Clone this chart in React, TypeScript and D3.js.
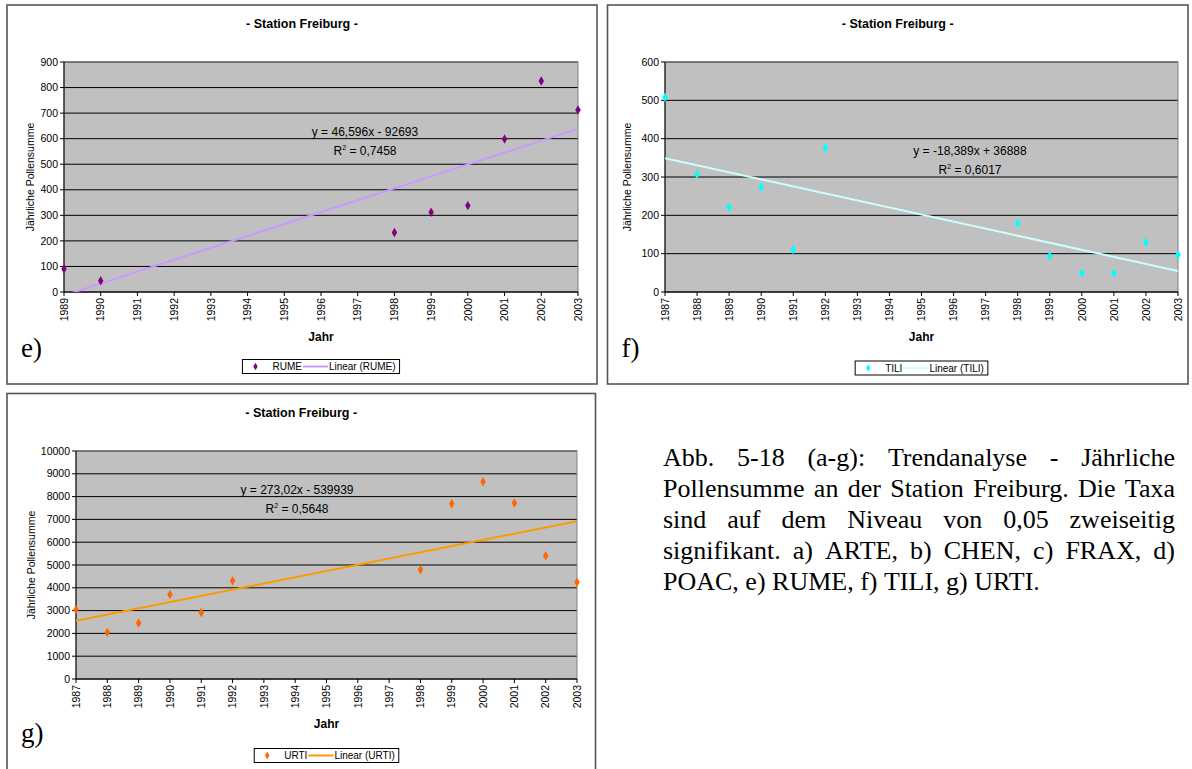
import React from 'react';
import * as d3 from 'd3';

// ---------- data ----------
const rumeYears = [1989, 1990, 1998, 1999, 2000, 2001, 2002, 2003];
const rumeValues = [90, 44, 233, 312, 338, 599, 826, 712];
const rumeTrend = [46.596, -92693];
const rumeXTicks = [1989, 1990, 1991, 1992, 1993, 1994, 1995, 1996, 1997, 1998, 1999, 2000, 2001, 2002, 2003];
const rumeYTicks = [0, 100, 200, 300, 400, 500, 600, 700, 800, 900];

const tiliYears = [1987, 1988, 1989, 1990, 1991, 1992, 1998, 1999, 2000, 2001, 2002, 2003];
const tiliValues = [508, 307, 221, 273, 110, 376, 179, 94, 49, 49, 130, 97];
const tiliTrend = [-18.389, 36888];
const fullXTicks = [1987, 1988, 1989, 1990, 1991, 1992, 1993, 1994, 1995, 1996, 1997, 1998, 1999, 2000, 2001, 2002, 2003];
const tiliYTicks = [0, 100, 200, 300, 400, 500, 600];

const urtiYears = [1987, 1988, 1989, 1990, 1991, 1992, 1998, 1999, 2000, 2001, 2002, 2003];
const urtiValues = [3040, 2045, 2455, 3710, 2920, 4310, 4795, 7690, 8650, 7720, 5410, 4240];
const urtiTrend = [273.02, -539939];
const urtiYTicks = [0, 1000, 2000, 3000, 4000, 5000, 6000, 7000, 8000, 9000, 10000];

const captionLines = [
  'Abb. 5-18 (a-g): Trendanalyse - Jährliche',
  'Pollensumme an der Station Freiburg. Die Taxa',
  'sind auf dem Niveau von 0,05 zweiseitig',
  'signifikant. a) ARTE, b) CHEN, c) FRAX, d)',
  'POAC, e) RUME, f) TILI, g) URTI.',
];

// ---------- style ----------
const SANS = "'Liberation Sans', Arial, sans-serif";
const SERIF = "'Liberation Serif', 'Times New Roman', serif";

let _ctx: CanvasRenderingContext2D | null = null;
function measure(text: string, font: string): number {
  if (!_ctx) _ctx = document.createElement('canvas').getContext('2d');
  _ctx!.font = font;
  return _ctx!.measureText(text).width;
}

type PanelCfg = {
  id: string;
  name: string;
  letter: string;
  years: number[];
  values: number[];
  trend: number[];
  xTicks: number[];
  yTicks: number[];
  box: [number, number, number, number];
  plot: [number, number, number, number];
  yLabelX: number;
  eqX: number;
  eqY: number;
  eqText: string;
  r2Text: string;
  marker: string;
  line: string;
  legendY: number;
  letterY: number;
};

const panels: PanelCfg[] = [
  {
    id: 'e', name: 'RUME', letter: 'e)',
    years: rumeYears, values: rumeValues, trend: rumeTrend,
    xTicks: rumeXTicks, yTicks: rumeYTicks,
    box: [7, 5, 597, 384], plot: [64, 62, 578, 292],
    yLabelX: 30, eqX: 365, eqY: 136,
    eqText: 'y = 46,596x - 92693', r2Text: ' = 0,7458',
    marker: '#800080', line: '#CC99FF', legendY: 359.5, letterY: 357,
  },
  {
    id: 'f', name: 'TILI', letter: 'f)',
    years: tiliYears, values: tiliValues, trend: tiliTrend,
    xTicks: fullXTicks, yTicks: tiliYTicks,
    box: [607.5, 5, 1188, 384], plot: [665, 62, 1178, 292],
    yLabelX: 627, eqX: 970, eqY: 155,
    eqText: 'y = -18,389x + 36888', r2Text: ' = 0,6017',
    marker: '#00FFFF', line: '#CCFFFF', legendY: 361, letterY: 357,
  },
  {
    id: 'g', name: 'URTI', letter: 'g)',
    years: urtiYears, values: urtiValues, trend: urtiTrend,
    xTicks: fullXTicks, yTicks: urtiYTicks,
    box: [7, 393.5, 595.5, 790], plot: [76, 451, 577, 679],
    yLabelX: 31, eqX: 297, eqY: 494,
    eqText: 'y = 273,02x - 539939', r2Text: ' = 0,5648',
    marker: '#FF6600', line: '#FF9900', legendY: 748.5, letterY: 742,
  },
];

const diamond = d3.symbol().type(d3.symbolDiamond).size(26)()!;

function Panel({ c }: { c: PanelCfg }) {
  const [bx0, by0, bx1, by1] = c.box;
  const [px0, py0, px1, py1] = c.plot;
  const x = d3.scaleLinear().domain([c.xTicks[0], c.xTicks[c.xTicks.length - 1]]).range([px0, px1]);
  const y = d3.scaleLinear().domain([0, c.yTicks[c.yTicks.length - 1]]).range([py1, py0]);
  const xd = x.domain();
  const trendPts: [number, number][] = xd.map((yr) => [yr, c.trend[0] * yr + c.trend[1]]);
  const trendPath = d3.line<[number, number]>().x((d) => x(d[0])).y((d) => y(d[1]))(trendPts)!;
  const cx = (bx0 + bx1) / 2;
  const titleY = by0 + 23;
  const pcx = (px0 + px1) / 2;

  // legend layout
  const lf = `10px ${SANS}`;
  const nameW = measure(c.name, lf);
  const lab = `Linear (${c.name})`;
  const labW = measure(lab, lf);
  const legW = 13 + 17 + nameW + 1 + 25 + 1 + labW + 4;
  const lx0 = pcx - legW / 2;
  const ly = c.legendY;
  const lh = 14;

  return (
    <g>
      <rect x={bx0} y={by0} width={bx1 - bx0} height={by1 - by0} fill="#fff" stroke="#555" strokeWidth={1.6} />
      <text x={cx} y={titleY} textAnchor="middle" fontFamily={SANS} fontWeight="bold" fontSize={12.5} fill="#000">
        - Station Freiburg -
      </text>
      <clipPath id={`clip-${c.id}`}>
        <rect x={px0} y={py0} width={px1 - px0} height={py1 - py0} />
      </clipPath>
      <rect x={px0} y={py0} width={px1 - px0} height={py1 - py0} fill="#C0C0C0" />
      {c.yTicks.map((t) => (
        <line key={`g${t}`} x1={px0} x2={px1} y1={y(t)} y2={y(t)} stroke="#000" strokeWidth={1} />
      ))}
      <rect x={px0} y={py0} width={px1 - px0} height={py1 - py0} fill="none" stroke="#808080" strokeWidth={1} />
      {/* axes */}
      <line x1={px0} x2={px0} y1={py0} y2={py1} stroke="#000" strokeWidth={1} />
      <line x1={px0} x2={px1} y1={py1} y2={py1} stroke="#000" strokeWidth={1} />
      {c.yTicks.map((t) => (
        <g key={`yt${t}`}>
          <line x1={px0 - 4} x2={px0} y1={y(t)} y2={y(t)} stroke="#000" />
          <text x={px0 - 6} y={y(t)} dy="0.35em" textAnchor="end" fontFamily={SANS} fontSize={10.5} fill="#000">
            {t}
          </text>
        </g>
      ))}
      {c.xTicks.map((t) => (
        <g key={`xt${t}`}>
          <line x1={x(t)} x2={x(t)} y1={py1} y2={py1 + 4} stroke="#000" />
          <text
            transform={`translate(${x(t)},${py1 + 6}) rotate(-90)`}
            dy="0.35em"
            textAnchor="end"
            fontFamily={SANS}
            fontSize={10.5}
            fill="#000"
          >
            {t}
          </text>
        </g>
      ))}
      <text
        transform={`translate(${c.yLabelX},${(py0 + py1) / 2}) rotate(-90)`}
        dy="0.35em"
        textAnchor="middle"
        fontFamily={SANS}
        fontSize={10.5}
        fill="#000"
      >
        Jährliche Pollensumme
      </text>
      <text x={pcx} y={py1 + 49} textAnchor="middle" fontFamily={SANS} fontWeight="bold" fontSize={12} fill="#000">
        Jahr
      </text>
      {/* trend */}
      <path d={trendPath} fill="none" stroke={c.line} strokeWidth={2} clipPath={`url(#clip-${c.id})`} />
      {/* points */}
      {c.years.map((yr, i) => (
        <path key={`p${yr}`} d={diamond} transform={`translate(${x(yr)},${y(c.values[i])})`} fill={c.marker} />
      ))}
      {/* equation */}
      <text x={c.eqX} y={c.eqY} textAnchor="middle" fontFamily={SANS} fontSize={12} fill="#000">
        {c.eqText}
      </text>
      <text x={c.eqX} y={c.eqY + 18.5} textAnchor="middle" fontFamily={SANS} fontSize={12} fill="#000">
        R<tspan fontSize={7} dy={-5}>2</tspan>
        <tspan dy={5}>{c.r2Text}</tspan>
      </text>
      {/* legend */}
      <rect x={lx0} y={ly} width={legW} height={lh} fill="#fff" stroke="#000" strokeWidth={1} />
      <path d={diamond} transform={`translate(${lx0 + 13},${ly + lh / 2}) scale(0.8)`} fill={c.marker} />
      <text x={lx0 + 30} y={ly + lh / 2} dy="0.35em" fontFamily={SANS} fontSize={10} fill="#000">
        {c.name}
      </text>
      <line
        x1={lx0 + 30 + nameW + 1}
        x2={lx0 + 30 + nameW + 26}
        y1={ly + lh / 2}
        y2={ly + lh / 2}
        stroke={c.line}
        strokeWidth={2}
      />
      <text x={lx0 + 30 + nameW + 27} y={ly + lh / 2} dy="0.35em" fontFamily={SANS} fontSize={10} fill="#000">
        {lab}
      </text>
      {/* panel letter */}
      <text x={bx0 + 14} y={c.letterY} fontFamily={SERIF} fontSize={27} fill="#000">
        {c.letter}
      </text>
    </g>
  );
}

function Caption() {
  const fs = 26;
  const font = `${fs}px ${SERIF}`;
  const left = 663;
  const right = 1175;
  const width = right - left;
  const baseY = 466;
  const lh = 31;
  return (
    <g fontFamily={SERIF} fontSize={fs} fill="#000">
      {captionLines.map((line, li) => {
        const words = line.split(' ');
        const last = li === captionLines.length - 1;
        const ws = words.map((w) => measure(w, font));
        const total = ws.reduce((a, b) => a + b, 0);
        const space = measure(' ', font);
        const gap = last || words.length < 2 ? space : (width - total) / (words.length - 1);
        let cur = left;
        return words.map((w, i) => {
          const xx = cur;
          cur += ws[i] + gap;
          return (
            <text key={`${li}-${i}`} x={xx} y={baseY + li * lh}>
              {w}
            </text>
          );
        });
      })}
    </g>
  );
}

export default function App() {
  return (
    <svg
      width={1192}
      height={769}
      viewBox="0 0 1192 769"
      style={{ position: 'absolute', left: 0, top: 0, background: '#fff' }}
    >
      <rect x={0} y={0} width={1192} height={769} fill="#fff" />
      {panels.map((c) => (
        <Panel key={c.id} c={c} />
      ))}
      <Caption />
    </svg>
  );
}
